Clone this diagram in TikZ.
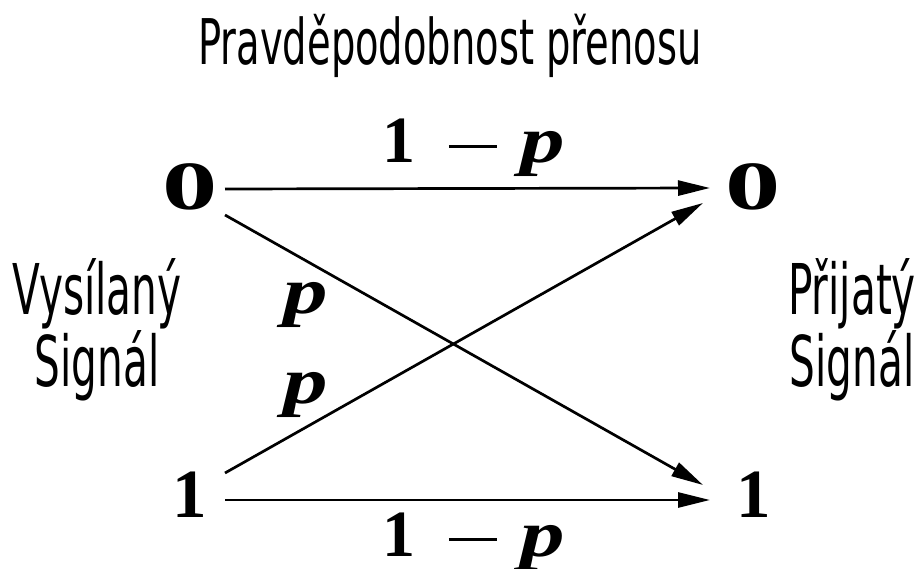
\documentclass[tikz,border=0pt]{standalone}
\usepackage{fontspec}
\setmainfont{Liberation Serif}
\newfontfamily\labelfont{DejaVu Sans}[FakeStretch=0.61]
\newfontfamily\sidefont{DejaVu Sans}[FakeStretch=0.58]
\newcommand{\probp}{\textit{\scalebox{1.35}[1]{p}}}
\newcommand{\keepprob}{1\hspace{0.5em}\rule[0.22em]{0.73em}{0.05em}\hspace{0.36em}\probp}
\usetikzlibrary{arrows.meta}

\begin{document}
\begin{tikzpicture}[x=1pt,y=-1pt]
\tikzset{
  bitnode/.style={inner sep=0pt,font=\fontsize{69}{80}\selectfont\bfseries},
  problabel/.style={inner sep=0pt,anchor=base,font=\fontsize{66}{74}\selectfont\bfseries},
  titlelabel/.style={inner sep=0pt,anchor=base,font=\labelfont\fontsize{63}{72}\selectfont},
  sidelabel/.style={inner sep=0pt,align=center,font=\sidefont\fontsize{70}{70}\selectfont},
  channel/.style={draw=black,line width=2.7pt,line join=miter,-{Triangle[length=32pt,width=15pt]}}
}
\useasboundingbox (0,0) rectangle (922,569);
\node[titlelabel] (n_title) at (450,65) {Pravděpodobnost přenosu};
\node[sidelabel] (n_sent) at (97,330) {Vysílaný\\Signál};
\node[sidelabel] (n_recv) at (852,330) {Přijatý\\Signál};
\node[bitnode] (n_L0) at (190,187) {\scalebox{1.6}[1]{0}};
\node[bitnode] (n_R0) at (753,187) {\scalebox{1.6}[1]{0}};
\node[bitnode] (n_L1) at (190,495) {1};
\node[bitnode] (n_R1) at (754,495) {1};
\node[problabel] (n_keep0) at (474,163) {\keepprob};
\node[problabel] (n_keep1) at (474,556) {\keepprob};
\node[problabel] (n_flip0) at (306,314) {\probp};
\node[problabel] (n_flip1) at (306,404) {\probp};
\draw[channel] ([shift={(35pt,-2pt)}]n_L0.center) -- ([shift={(-43pt,-1pt)}]n_R0.center);
\draw[channel] ([shift={(35pt,-28pt)}]n_L0.center) -- ([shift={(-51pt,10pt)}]n_R1.center);
\draw[channel] ([shift={(35pt,22pt)}]n_L1.center) -- ([shift={(-50pt,-16pt)}]n_R0.center);
\draw[channel] ([shift={(35pt,-5pt)}]n_L1.center) -- ([shift={(-44pt,-5pt)}]n_R1.center);
\end{tikzpicture}
\end{document}
